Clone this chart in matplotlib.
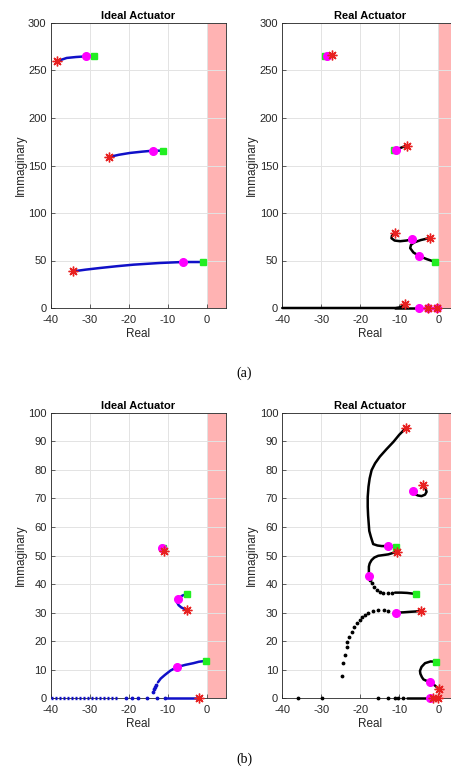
import numpy as np
import matplotlib.pyplot as plt

plt.rcParams['font.family'] = ['Liberation Sans', 'DejaVu Sans']
plt.rcParams['axes.unicode_minus'] = False

# ---- (a) Ideal actuator: branches (x, y) from square -> circle -> star
a_ideal_br = [
    ([-28.8, -30.9, -33.5, -35.9, -38.5], [265.6, 264.9, 264.2, 263.2, 259.6]),
    ([-11.1, -13.8, -16.5, -19.7, -22.5, -25.0], [165.6, 165.6, 164.6, 163.2, 161.3, 159.0]),
    ([-0.85, -6.2, -12.0, -18.8, -23.0, -27.4, -31.0, -34.2],
     [48.4, 48.4, 47.4, 45.6, 44.0, 42.1, 40.4, 38.6]),
]
a_ideal_sq = ([-28.8, -11.1, -0.85], [265.6, 165.6, 48.4])
a_ideal_ci = ([-30.9, -13.8, -6.2], [264.9, 165.6, 48.4])
a_ideal_st = ([-38.5, -25.0, -34.2], [259.6, 159.0, 38.6])

# ---- (a) Real actuator
a_real_br = [
    ([-29.1, -28.6, -27.2], [265.6, 265.6, 266.7]),
    ([-11.3, -10.9, -9.5, -8.1], [166.0, 166.7, 168.8, 170.9]),
    ([-0.85, -3.0, -4.9, -6.4, -7.2, -7.0, -6.2, -4.5, -2.1],
     [48.5, 51.5, 54.7, 58.5, 63.0, 66.5, 69.0, 71.5, 73.8]),
    ([-11.1, -11.9, -12.0, -11.2, -9.8, -8.2, -6.7], [78.6, 76.0, 73.4, 71.0, 70.3, 71.0, 72.3]),
    ([-40.0, -11.0, -10.0, -9.3, -8.8, -8.5], [0.0, 0.0, 0.6, 1.8, 3.2, 4.6]),
    ([-11.0, -4.9], [0.0, 0.0]),
]
a_real_sq = ([-29.1, -11.3, -0.85], [265.6, 166.0, 48.5])
a_real_ci = ([-28.6, -10.9, -4.9, -6.7, -4.9, -2.6, -0.3], [265.6, 166.7, 54.7, 72.3, 0.0, 0.0, 0.0])
a_real_st = ([-27.2, -8.1, -11.1, -2.1, -8.5, -2.6, -0.3], [266.7, 170.9, 78.6, 73.8, 4.6, 0.0, 0.0])

# ---- (b) Ideal actuator
b_ideal_br = [
    ([-5.0, -6.2, -7.4, -7.6, -7.2, -6.5, -5.1], [36.5, 36.0, 34.8, 33.6, 32.6, 31.8, 30.9]),
    ([-0.3, -2.0, -3.4, -5.5, -7.7, -9.3, -10.7, -11.8, -12.5],
     [13.1, 12.8, 12.3, 11.7, 10.9, 9.7, 8.2, 6.9, 5.6]),
    ([-10.3, -2.0], [0.0, 0.0]),
]
b_ideal_dense = ([-40.0, -22.6], [0.0, 0.0])
b_ideal_dots = ([-20.7, -19.2, -17.5, -15.4, -12.8, -10.7, -13.0, -13.3, -13.6, -13.8],
                [0.0, 0.0, 0.0, 0.0, 0.0, 0.0, 4.6, 3.9, 3.1, 2.3])
b_ideal_sq = ([-11.1, -5.0, -0.3], [52.5, 36.5, 13.1])
b_ideal_ci = ([-11.5, -7.4, -7.7], [52.5, 34.8, 10.9])
b_ideal_st = ([-11.0, -5.1, -2.0], [51.7, 30.9, 0.0])

# ---- (b) Real actuator
b_real_br = [
    ([-8.4, -10.0, -11.5, -13.3, -15.0, -16.2, -17.1, -17.6, -17.9, -18.1, -18.1, -18.0, -17.7,
      -17.3, -16.7, -15.6, -14.5, -12.8, -10.9],
     [94.5, 92.3, 89.8, 87.2, 84.6, 82.3, 79.9, 77.0, 74.1, 70.5, 67.1, 64.0, 58.6,
      56.6, 54.0, 53.5, 53.3, 53.3, 52.9]),
    ([-10.7, -12.8, -15.4, -16.4, -17.1, -17.6, -17.8, -17.8], [51.3, 50.4, 49.9, 49.3, 48.4, 47.2, 46.1, 42.9]),
    ([-11.1, -9.5, -8.0, -6.8, -5.6], [37.0, 37.0, 36.9, 36.7, 36.5]),
    ([-6.4, -6.0, -5.2, -4.3, -3.4, -3.0, -3.3, -4.0], [72.7, 71.5, 71.0, 70.8, 71.3, 72.3, 73.6, 74.7]),
    ([-4.4, -5.8, -7.0, -9.0, -10.8], [30.7, 30.4, 30.3, 30.1, 30.0]),
    ([-0.6, -2.0, -3.4, -4.3, -4.7, -4.6, -4.2, -3.8, -3.0, -2.1, -1.0, 0.3],
     [12.8, 12.9, 12.3, 11.0, 9.6, 8.6, 7.4, 6.6, 6.1, 5.8, 4.6, 3.2]),
    ([-8.0, -2.1], [0.0, 0.0]),
]
b_real_dots = (
    [-17.4, -17.1, -16.5, -15.8, -14.9, -14.1, -13.0, -12.0,
     -12.8, -14.0, -15.4, -16.8, -17.9, -18.9, -19.6, -20.2, -20.9, -21.6, -22.2, -22.8,
     -23.3, -23.5, -24.0, -24.4, -24.8,
     -36.0, -29.9, -15.4, -12.8, -11.1, -10.3, -9.1],
    [41.3, 40.3, 39.0, 37.9, 37.2, 36.8, 36.7, 36.8,
     30.6, 30.9, 30.9, 30.4, 30.0, 29.3, 28.6, 27.5, 26.3, 24.8, 23.3, 21.5,
     19.8, 18.1, 15.0, 12.3, 7.9,
     0.0, 0.0, 0.0, 0.0, 0.0, 0.0, 0.0])
b_real_sq = ([-10.9, -5.6, -0.6], [52.9, 36.5, 12.8])
b_real_ci = ([-12.8, -17.8, -6.4, -10.8, -2.1, -2.1], [53.3, 42.9, 72.7, 30.0, 5.8, 0.0])
b_real_st = ([-8.4, -10.7, -4.0, -4.4, 0.3, -1.3, 0.0], [94.5, 51.3, 74.7, 30.7, 3.2, 0.0, 0.0])

x_ticks = [-40, -30, -20, -10, 0]
a_yticks = [0, 50, 100, 150, 200, 250, 300]
b_yticks = [0, 10, 20, 30, 40, 50, 60, 70, 80, 90, 100]

BLUE = '#1010c8'
BLACK = '#000000'


def setup(ax, ymax, yticks, title):
    ax.axvspan(0, 5, color='#ffb3b3', zorder=0, lw=0)
    ax.set_xlim(-40, 5)
    ax.set_ylim(0, ymax)
    ax.set_xticks(x_ticks)
    ax.set_yticks(yticks)
    ax.grid(True, color='#e3e3e3', lw=0.7)
    ax.set_axisbelow(True)
    ax.tick_params(direction='in', length=3, width=0.5, labelsize=8, colors='#262626')
    ax.tick_params(axis='x', pad=5)
    ax.tick_params(axis='y', pad=3)
    for s in ax.spines.values():
        s.set_linewidth(0.6)
        s.set_color('#262626')
    ax.set_title(title, fontsize=8, fontweight='bold', pad=3)
    ax.set_xlabel('Real', fontsize=8.5, color='#262626', labelpad=2)
    ax.set_ylabel('Immaginary', fontsize=8.5, color='#262626', labelpad=1)


def draw(ax, branches, color, sq, ci, st):
    for bx, by in branches:
        ax.plot(bx, by, color=color, lw=1.8, solid_capstyle='round', zorder=3, clip_on=False)
    ax.plot(sq[0], sq[1], 's', color='#22ee22', ms=4.5, zorder=4, clip_on=False)
    ax.plot(ci[0], ci[1], 'o', color='#ff00ff', ms=5.5, zorder=5, clip_on=False)
    ax.plot(st[0], st[1], marker=(8, 2, 0), ls='none', color='#e82020', ms=7, mew=1.0,
            zorder=6, clip_on=False)


fig = plt.figure(figsize=(4.51, 7.69), dpi=100)
W, H = 451, 769


def add_ax(left, top, right, bottom):
    return fig.add_axes([left / W, (H - bottom) / H, (right - left) / W, (bottom - top) / H])


ax1 = add_ax(50.7, 23, 226.2, 308)
ax2 = add_ax(282.3, 23, 457.8, 308)
ax3 = add_ax(50.7, 412.7, 226.2, 698.3)
ax4 = add_ax(282.3, 412.7, 457.8, 698.3)

setup(ax1, 300, a_yticks, 'Ideal Actuator')
draw(ax1, a_ideal_br, BLUE, a_ideal_sq, a_ideal_ci, a_ideal_st)

setup(ax2, 300, a_yticks, 'Real Actuator')
draw(ax2, a_real_br, BLACK, a_real_sq, a_real_ci, a_real_st)

setup(ax3, 100, b_yticks, 'Ideal Actuator')
ax3.plot(b_ideal_dense[0], b_ideal_dense[1], color=BLUE, lw=2.4, ls=(0, (0.6, 0.6)),
         zorder=3, clip_on=False)
ax3.plot(b_ideal_dots[0], b_ideal_dots[1], '.', color=BLUE, ms=3.5, zorder=3, clip_on=False)
draw(ax3, b_ideal_br, BLUE, b_ideal_sq, b_ideal_ci, b_ideal_st)

setup(ax4, 100, b_yticks, 'Real Actuator')
ax4.plot(b_real_dots[0], b_real_dots[1], '.', color=BLACK, ms=3.5, zorder=3, clip_on=False)
draw(ax4, b_real_br, BLACK, b_real_sq, b_real_ci, b_real_st)

fig.text(244 / W, 1 - 373 / H, '(a)', ha='center', va='center', fontsize=10, family='Liberation Serif')
fig.text(244 / W, 1 - 759 / H, '(b)', ha='center', va='center', fontsize=10, family='Liberation Serif')

fig.savefig('out.png', dpi=100)
